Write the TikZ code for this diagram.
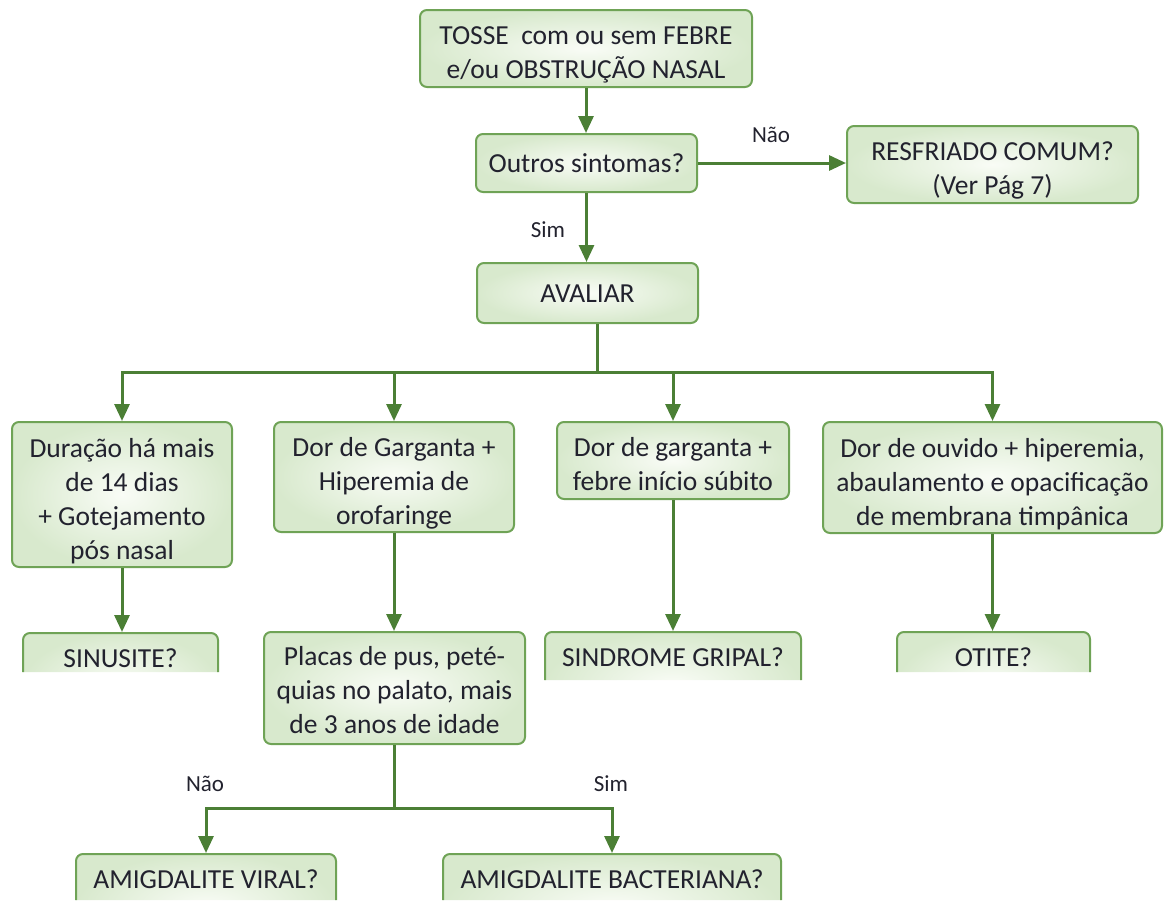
\documentclass[tikz,border=0pt]{standalone}
\usepackage{fontspec}
\setmainfont{Carlito}
\usetikzlibrary{arrows.meta,calc}
\definecolor{bord}{HTML}{6FA356}
\definecolor{lnc}{HTML}{4B7F35}
\definecolor{fillo}{HTML}{D8E9CD}
\definecolor{filli}{HTML}{F9FCF6}
\definecolor{txt}{HTML}{22222E}
\newcommand\tl[2][6.5pt]{\raisebox{-#1}[\height][\depth]{\begin{tabular}{@{}c@{}}#2\end{tabular}}}
\begin{document}
\begin{tikzpicture}[x=1pt,y=-1pt,
  box/.style={draw=bord, line width=2pt, rounded corners=7pt, inner color=filli, outer color=fillo,
    align=center, text=txt, font=\fontsize{27.5}{34}\selectfont, inner sep=0pt},
  cut/.style={box, anchor=north, text height=34pt, text depth=70pt},
  arr/.style={draw=lnc, line width=3pt, -{Triangle[width=15pt,length=17pt]}},
  ln/.style={draw=lnc, line width=3pt},
  lab/.style={text=txt, font=\fontsize{23}{27}\selectfont, inner sep=0pt}]
\useasboundingbox (0,0) rectangle (1165,900);

\node[box, minimum width=332pt, minimum height=77pt] (top) at (586,48.5) {\tl{TOSSE\ \ com ou sem FEBRE\\e/ou OBSTRUÇÃO NASAL}};
\node[box, minimum width=221pt, minimum height=58pt] (outros) at (586.5,163) {\tl[2.5pt]{Outros sintomas?}};
\node[box, minimum width=291pt, minimum height=77pt] (resf) at (992.5,164.5) {\tl{RESFRIADO COMUM?\\(Ver Pág 7)}};
\node[box, minimum width=221pt, minimum height=60pt] (aval) at (587.5,293) {\tl[2.5pt]{AVALIAR}};

\node[box, minimum width=220pt, minimum height=145pt] (b1) at (122,494.5) {\tl[7pt]{Duração há mais\\de 14 dias\\+ Gotejamento\\pós nasal}};
\node[box, minimum width=240pt, minimum height=110pt] (b2) at (394,477) {\tl{Dor de Garganta +\\Hiperemia de\\orofaringe}};
\node[box, minimum width=232pt, minimum height=77pt] (b3) at (673,460.5) {\tl{Dor de garganta +\\febre início súbito}};
\node[box, minimum width=339pt, minimum height=111pt] (b4) at (992.5,477.5) {\tl[7pt]{Dor de ouvido + hiperemia,\\abaulamento e opacificação\\de membrana timpânica}};

\node[box, minimum width=261pt, minimum height=112pt] (placas) at (394.5,688) {\tl[5pt]{Placas de pus, peté-\\quias no palato, mais\\de 3 anos de idade}};

\begin{scope}
\clip (0,600) rectangle (540,672) (540,600) rectangle (840,680) (840,600) rectangle (1165,672) (0,840) rectangle (1165,900);
\node[cut, minimum width=195pt] (sinus) at (120.5,632) {SINUSITE?};
\node[cut, minimum width=256pt] (sind) at (673,631) {SINDROME GRIPAL?};
\node[cut, minimum width=193pt] (otite) at (993.5,631) {OTITE?};
\node[cut, minimum width=260pt] (viral) at (206,853) {AMIGDALITE VIRAL?};
\node[cut, minimum width=338pt] (bact) at (612,853) {AMIGDALITE BACTERIANA?};
\end{scope}

\node[lab] (nao1) at (771,135) {Não};
\node[lab] (sim1) at (548,230) {Sim};
\node[lab] (nao2) at (205,784) {Não};
\node[lab] (sim2) at (611,784) {Sim};

\draw[arr] (top.south) -- (top.south |- outros.north);
\draw[arr] (outros.east) -- (outros.east -| resf.west);
\draw[arr] (outros.south) -- (outros.south |- aval.north);

\coordinate (bus) at (597,372);
\draw[ln] (aval.south -| bus) -- (bus);
\draw[arr] (bus) -| (b1.north);
\draw[arr] (bus) -| (b2.north);
\draw[arr] (bus) -| (b3.north);
\draw[arr] (bus) -| (b4.north);

\draw[arr] (b1.south) -- (b1.south |- sinus.north);
\draw[arr] (b2.south) -- (b2.south |- placas.north);
\draw[arr] (b3.south) -- (b3.south |- sind.north);
\draw[arr] (b4.south) -- (b4.south |- otite.north);

\coordinate (split) at (394.5,808);
\draw[ln] (placas.south) -- (split);
\draw[arr] (split) -| (viral.north);
\draw[arr] (split) -| (bact.north);
\end{tikzpicture}
\end{document}
